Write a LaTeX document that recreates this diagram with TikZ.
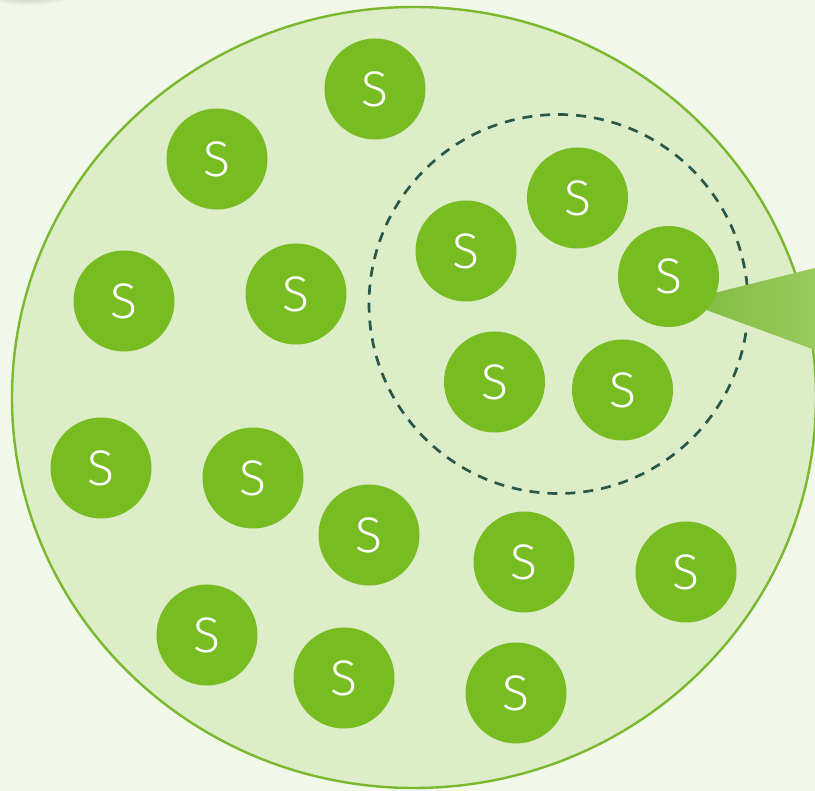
\documentclass[tikz,border=0pt]{standalone}
\usepackage{fontspec}
\usetikzlibrary{shapes.geometric}
\newfontfamily\sfont{Fira Sans}[UprightFont={* Light}]
\begin{document}
\begin{tikzpicture}[x=1pt,y=-1pt]
\definecolor{bg}{RGB}{241,248,233}
\definecolor{bigfill}{RGB}{220,237,200}
\definecolor{bigline}{RGB}{122,184,46}
\definecolor{sfill}{RGB}{119,188,33}
\definecolor{dashc}{RGB}{40,88,74}
\definecolor{wedgeL}{RGB}{128,186,64}
\definecolor{wedgeR}{RGB}{152,202,92}
\tikzset{
  sball/.style={circle, fill=sfill, minimum size=101pt, inner sep=0pt,
    text=white, font=\sfont\fontsize{50}{50}\selectfont},
}
\fill[bg] (0,0) rectangle (815,791);
\useasboundingbox (0,0) rectangle (815,791);
\begin{scope}
\clip (0,0) rectangle (815,791);
\shade[inner color=black!55, outer color=bg] (28,-22) ellipse (62 and 28);
\node[ellipse, draw=bigline, fill=bigfill, line width=2.4pt,
  minimum width=804pt, minimum height=781pt, inner sep=0pt] (big) at (414,397.5) {};
\node[circle, draw=dashc, line width=2.7pt, dash pattern=on 10pt off 8pt,
  minimum size=379pt, inner sep=0pt] (group) at (558.5,304) {};
\shade[left color=wedgeL, right color=wedgeR] (682,301) -- (815,268) -- (815,350) -- cycle;
\end{scope}
\node[sball] (s1) at (375,89) {S};
\node[sball] (s2) at (217,159) {S};
\node[sball] (s3) at (577.5,198) {S};
\node[sball] (s4) at (466,251) {S};
\node[sball] (s5) at (668.5,276.5) {S};
\node[sball] (s6) at (124,301) {S};
\node[sball] (s7) at (296,294) {S};
\node[sball] (s8) at (494.5,382) {S};
\node[sball] (s9) at (622.5,390) {S};
\node[sball] (s10) at (101,468) {S};
\node[sball] (s11) at (253,478) {S};
\node[sball] (s12) at (369,535) {S};
\node[sball] (s13) at (524,562) {S};
\node[sball] (s14) at (686,572) {S};
\node[sball] (s15) at (207,635) {S};
\node[sball] (s16) at (344,678) {S};
\node[sball] (s17) at (516,693) {S};
\end{tikzpicture}
\end{document}
